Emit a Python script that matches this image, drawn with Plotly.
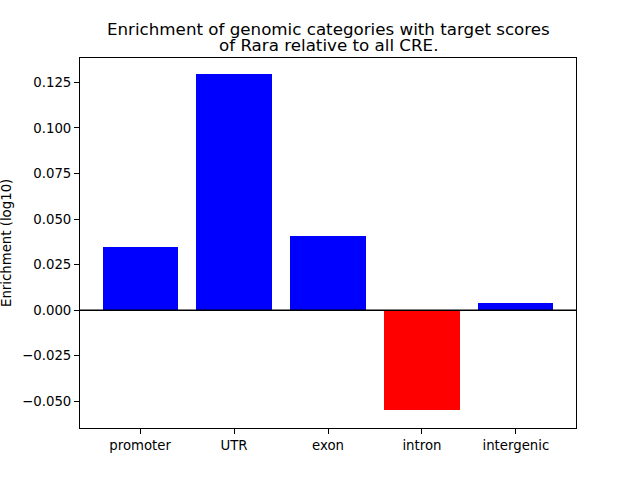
import plotly.graph_objects as go

categories = ["promoter", "UTR", "exon", "intron", "intergenic"]
values = [0.0345, 0.1294, 0.0406, -0.0548, 0.0038]
colors = ["blue" if v >= 0 else "red" for v in values]
ytick_vals = [-0.05, -0.025, 0.0, 0.025, 0.05, 0.075, 0.1, 0.125]
title_lines = ["Enrichment of genomic categories with target scores",
               "of Rara relative to all CRE."]

font = "DejaVu Sans"
H, T, B = 480, 58, 52
ph = H - T - B

fig = go.Figure()
fig.add_trace(go.Bar(x=list(range(len(categories))), y=values, width=0.8,
                     marker=dict(color=colors, line=dict(width=0))))
fig.add_shape(type="line", xref="paper", x0=0, x1=1, yref="y", y0=0, y1=0,
              line=dict(color="black", width=1.5))
annotations = []
for line, py in zip(title_lines, [28.5, 44.5]):
    annotations.append(dict(text=line, xref="paper", yref="paper", x=0.5,
                            y=(H - B - py) / ph, yanchor="middle",
                            showarrow=False, font=dict(size=16.7, family=font)))
annotations.append(dict(text="Enrichment (log10)", xref="paper", yref="paper",
                        x=(6 - 80) / 496, y=0.5, textangle=-90, showarrow=False,
                        xanchor="center", yanchor="middle",
                        font=dict(size=13.3, family=font)))
fig.update_layout(
    width=640, height=H,
    margin=dict(l=80, r=64, t=T, b=B),
    paper_bgcolor="white", plot_bgcolor="white",
    font=dict(family=font, size=13.3, color="black"),
    showlegend=False,
    bargap=0,
    xaxis=dict(range=[-0.64, 4.64], tickvals=list(range(len(categories))),
               ticktext=categories, showgrid=False, zeroline=False,
               showline=True, linecolor="black", linewidth=1, mirror=True,
               ticks="outside", ticklen=5, tickcolor="black"),
    yaxis=dict(range=[-0.0647, 0.1384], tickvals=ytick_vals, tickformat=".3f",
               showgrid=False, zeroline=False,
               showline=True, linecolor="black", linewidth=1, mirror=True,
               ticks="outside", ticklen=5, tickcolor="black"),
    annotations=annotations,
)
fig.write_html("out.html", config={"displayModeBar": False},
               post_script="document.body.style.margin='0';")
